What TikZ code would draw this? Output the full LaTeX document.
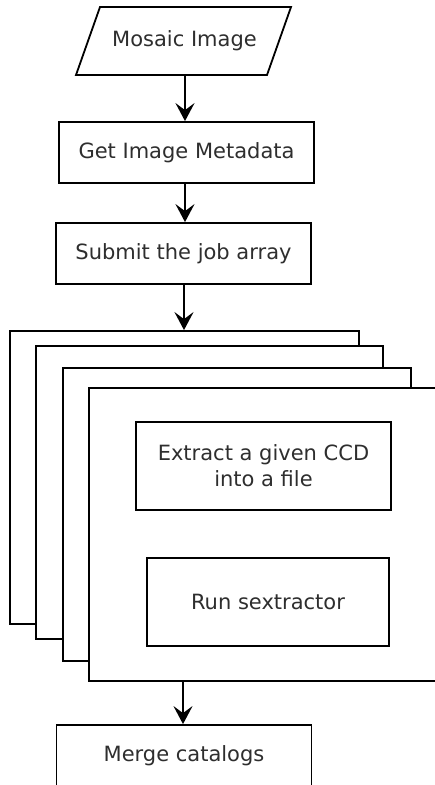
\documentclass[tikz,border=0pt]{standalone}
\usepackage{fontspec}
\setmainfont{DejaVu Sans}
\usetikzlibrary{arrows.meta}
\tikzset{
  box/.style={draw, line width=1.8pt, fill=white, minimum width=255pt, minimum height=61pt,
    inner sep=0pt, font=\fontsize{21}{26}\selectfont, text=black!82, align=center},
  frame/.style={draw, line width=1.8pt, fill=white, inner sep=0pt},
  flow/.style={line width=1.8pt, -{Stealth[length=18pt, width=19pt, inset=7pt]}},
}
\begin{document}
\begin{tikzpicture}[x=1pt, y=-1pt]
  \useasboundingbox (0,0) rectangle (435,785);
  \clip (0,0) rectangle (435,785);

  % input: parallelogram
  \draw[line width=1.8pt, line join=miter] (76,75) -- (100,7) -- (291,7) -- (267,75) -- cycle;
  \node[box, draw=none, fill=none, minimum width=167pt, minimum height=68pt] (mosaic) at (184.5,41) {Mosaic Image};

  \node[box] (meta) at (186.5,152.5) {Get Image Metadata};
  \node[box] (submit) at (183.5,253.5) {Submit the job array};

  % stacked job frames
  \node[frame, minimum width=349pt, minimum height=293pt] (frameA) at (184.5,477.5) {};
  \node[frame, minimum width=347pt, minimum height=293pt] (frameB) at (209.5,492.5) {};
  \node[frame, minimum width=348pt, minimum height=293pt] (frameC) at (237,514.5) {};
  \node[frame, minimum width=360pt, minimum height=293pt] (frameD) at (269,534.5) {};

  \node[box, minimum height=88pt] (extract) at (263.5,466) {Extract a given CCD\\into a file};
  \node[box, minimum width=242pt, minimum height=88pt] (run) at (268,602) {Run sextractor};

  \node[box] (merge) at (184,755.5) {Merge catalogs};

  % vertical guide lines for the connectors
  \coordinate (xa) at (185,0);
  \coordinate (xb) at (184,0);
  \coordinate (xc) at (183,0);

  % connectors
  \draw[flow] (mosaic.south -| xa) -- (meta.north -| xa);
  \draw[flow] (meta.south -| xa) -- (submit.north -| xa);
  \draw[flow] (submit.south -| xb) -- (frameA.north -| xb);
  \draw[flow] (frameD.south -| xc) -- (merge.north -| xc);
\end{tikzpicture}
\end{document}
